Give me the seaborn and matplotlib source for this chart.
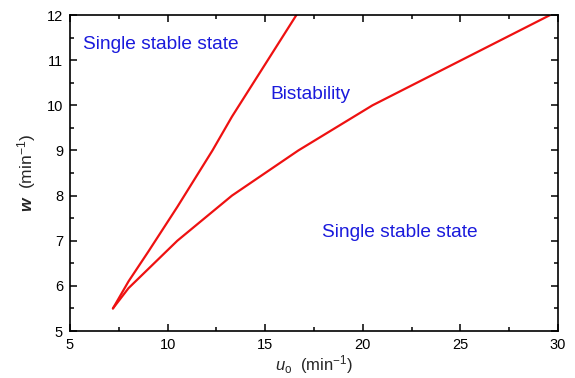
import matplotlib
matplotlib.use('Agg')
import matplotlib.pyplot as plt
from matplotlib.ticker import MultipleLocator
import pandas as pd
import seaborn as sns

# boundary curves of the bistable region
upper_u = [7.2, 8.0, 9.0, 10.5, 12.3, 13.3, 16.6]
upper_w = [5.5, 6.1, 6.75, 7.75, 9.0, 9.75, 12.0]
lower_u = [7.2, 8.0, 10.5, 13.3, 16.7, 20.5, 29.6]
lower_w = [5.5, 5.95, 7.0, 8.0, 9.0, 10.0, 12.0]

region_labels = ['Single stable state', 'Bistability', 'Single stable state']
region_x = [5.65, 15.25, 17.9]
region_y = [11.34, 10.23, 7.19]

sns.set_theme(style='ticks')
plt.rcParams['font.family'] = ['Liberation Sans', 'DejaVu Sans']
plt.rcParams['mathtext.fontset'] = 'custom'
plt.rcParams['mathtext.rm'] = 'Liberation Sans'
plt.rcParams['mathtext.it'] = 'Liberation Sans:italic'
plt.rcParams['mathtext.bf'] = 'Liberation Sans:bold'
plt.rcParams['mathtext.bfit'] = 'Liberation Sans:bold:italic'

df = pd.concat([
    pd.DataFrame({'u': upper_u, 'w': upper_w, 'branch': 'upper'}),
    pd.DataFrame({'u': lower_u, 'w': lower_w, 'branch': 'lower'}),
])

fig = plt.figure(figsize=(5.75, 3.78), dpi=100)
ax = fig.add_axes([0.1217, 0.1243, 0.8487, 0.836])

sns.lineplot(data=df, x='u', y='w', units='branch', estimator=None, sort=False,
             color='#ee1111', linewidth=1.6, ax=ax)

for txt, x, y in zip(region_labels, region_x, region_y):
    ax.text(x, y, txt, color='#1a1adc', fontsize=13.8, va='center', ha='left')

ax.set_xlim(5, 30)
ax.set_ylim(5, 12)
ax.xaxis.set_major_locator(MultipleLocator(5))
ax.xaxis.set_minor_locator(MultipleLocator(2.5))
ax.yaxis.set_major_locator(MultipleLocator(1))
ax.yaxis.set_minor_locator(MultipleLocator(0.5))
ax.tick_params(which='both', direction='in', top=True, right=True,
               labelsize=10.5, colors='black', width=1.1)
ax.tick_params(which='major', length=5, pad=5)
ax.tick_params(which='minor', length=3)
for s in ax.spines.values():
    s.set_linewidth(1.2)
    s.set_color('black')

ax.set_xlabel(r'$\mathit{u}_{\rm o}$  (min$^{-1}$)', fontsize=12, labelpad=1)
ax.set_ylabel(r'$\mathbfit{w}$  (min$^{-1}$)', fontsize=12.5, labelpad=6)

plt.savefig('out.png', dpi=100)
